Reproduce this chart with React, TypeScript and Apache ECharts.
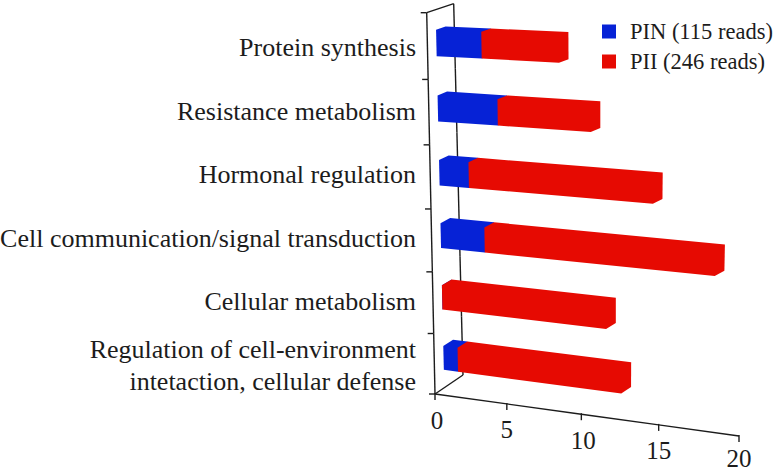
import React, { useEffect, useRef } from "react";
import * as echarts from "echarts";

const categories = [
  "Protein synthesis",
  "Resistance metabolism",
  "Hormonal regulation",
  "Cell communication/signal transduction",
  "Cellular metabolism",
  "Regulation of cell-environment\nintetaction, cellular defense",
];
const pinValues = [3, 4, 2, 3, 0, 1];
const piiValues = [5, 6, 11.9, 14.75, 11, 11];
const xTicks = [0, 5, 10, 15, 20];
const FONT = '"Liberation Serif", "Times New Roman", serif';
const BLUE = "#0622D6";
const RED = "#E60A02";
const INK = "#1c1c1c";

const GRID = { left: 435, top: 16, width: 304, height: 381 };
const Q = { tl: [426.7, 12.7], tr: [750, 26], br: [739, 436], bl: [435, 394] };

function makeH() {
  const [x0, y0] = Q.tl, [x1, y1] = Q.tr, [x2, y2] = Q.br, [x3, y3] = Q.bl;
  const dx1 = x1 - x2, dx2 = x3 - x2, sx = x0 - x1 + x2 - x3;
  const dy1 = y1 - y2, dy2 = y3 - y2, sy = y0 - y1 + y2 - y3;
  const det = dx1 * dy2 - dx2 * dy1;
  const g = (sx * dy2 - dx2 * sy) / det;
  const h = (dx1 * sy - sx * dy1) / det;
  const a = x1 - x0 + g * x1, b = x3 - x0 + h * x3, c = x0;
  const d = y1 - y0 + g * y1, e = y3 - y0 + h * y3, f = y0;
  return (u: number, v: number) => {
    const w = g * u + h * v + 1;
    return [(a * u + b * v + c) / w, (d * u + e * v + f) / w];
  };
}
const H = makeH();

// grid pixel -> tilted picture, z is the depth of the box (0 front wall, 1 back wall)
function project(px: number, py: number, z = 0) {
  const u = (px - GRID.left) / GRID.width;
  const v = (py - GRID.top) / GRID.height;
  const p = H(u, v);
  return [p[0] + z * (27 + v), p[1] - z * (9 + 10 * v)];
}

const Z0 = 0.33;
const Z1 = 0.68;

function barItem(color: string) {
  return (_: any, api: any) => {
    const idx = api.value(0);
    const a = api.coord([api.value(1), idx]);
    const b = api.coord([api.value(2), idx]);
    const band = api.size([0, 1])[1];
    const t = a[1] - band * 0.2;
    const m = a[1] + band * 0.2;
    return {
      type: "polygon",
      shape: {
        points: [
          project(a[0], m, Z0),
          project(a[0], t, Z0),
          project(a[0], t, Z1),
          project(b[0], t, Z1),
          project(b[0], m, Z1),
          project(b[0], m, Z0),
        ],
      },
      style: { fill: color },
    };
  };
}

const line = (p: number[], q: number[]) => ({
  type: "line",
  shape: { x1: p[0], y1: p[1], x2: q[0], y2: q[1] },
  style: { stroke: INK, lineWidth: 1.4 },
});

function frameItem(_: any, api: any) {
  const i = api.value(0);
  const top = GRID.top, h = GRID.height, l = GRID.left;
  const y = top + (i / 6) * h;
  const p = project(l, y);
  const kids: any[] = [line([p[0] - 6, p[1]], p)];
  if (i < 6) {
    kids.push(line(project(l, y), project(l, top + ((i + 1) / 6) * h)));
    kids.push(line(project(l, y, 1), project(l, top + ((i + 1) / 6) * h, 1)));
  }
  if (i === 0 || i === 6) kids.push(line(project(l, y), project(l, y, 1)));
  return { type: "group", children: kids };
}

function tickItem(_: any, api: any) {
  const v = api.value(0);
  const c = api.coord([v, categories.length - 1]);
  const bottom = GRID.top + GRID.height;
  const p = project(c[0], bottom);
  const kids: any[] = [
    line([p[0], p[1] - 1], [p[0], p[1] + 6]),
    {
      type: "text",
      style: {
        x: p[0] + (v === 0 ? 2 : v === 10 ? 2 : 0),
        y: p[1] + (v === 20 ? 22 : 26),
        text: String(v),
        fill: INK,
        font: `25px ${FONT}`,
        lineHeight: 18,
        align: "center",
        verticalAlign: "middle",
      },
    },
  ];
  if (v < 20) {
    const c2 = api.coord([v + 5, 0]);
    kids.push(line(p, project(c2[0], bottom)));
  }
  return { type: "group", children: kids };
}

export default function App() {
  const ref = useRef<HTMLDivElement>(null);
  useEffect(() => {
    document.body.style.margin = "0";
    const chart = echarts.init(ref.current!, undefined, { renderer: "svg" });
    const pinData = pinValues.map((v, i) => [i, 0, v]);
    const piiData = piiValues.map((v, i) => [i, pinValues[i], pinValues[i] + v]);
    chart.setOption({
      animation: false,
      backgroundColor: "#fff",
      grid: { ...GRID, containLabel: false, outerBoundsMode: "none" },
      legend: {
        left: 602,
        top: 20,
        padding: 0,
        orient: "vertical",
        icon: "rect",
        itemWidth: 14,
        itemHeight: 14,
        itemGap: 7,
        selectedMode: false,
        textStyle: { fontFamily: FONT, fontSize: 22.5, color: INK, padding: [0, 0, 0, 9] },
        data: ["PIN (115 reads)", "PII (246 reads)"],
      },
      xAxis: { type: "value", min: 0, max: 20, interval: 5, show: false },
      yAxis: {
        type: "category",
        inverse: true,
        data: categories,
        axisLine: { show: false },
        axisTick: { show: false },
        axisLabel: {
          margin: 19,
          fontFamily: FONT,
          fontSize: 26,
          lineHeight: 32,
          color: INK,
          align: "right",
        },
      },
      series: [
        {
          type: "custom",
          name: "frame",
          coordinateSystem: "cartesian2d",
          renderItem: frameItem,
          data: [0, 1, 2, 3, 4, 5, 6].map((i) => [i]),
          encode: { x: -1, y: -1 },
          silent: true,
        },
        {
          type: "custom",
          name: "ticks",
          coordinateSystem: "cartesian2d",
          renderItem: tickItem,
          data: xTicks.map((v) => [v]),
          encode: { x: 0, y: -1 },
          silent: true,
        },
        {
          type: "custom",
          name: "PIN (115 reads)",
          renderItem: barItem(BLUE),
          itemStyle: { color: BLUE },
          data: pinData,
          encode: { x: [1, 2], y: 0 },
          silent: true,
        },
        {
          type: "custom",
          name: "PII (246 reads)",
          renderItem: barItem(RED),
          itemStyle: { color: RED },
          data: piiData,
          encode: { x: [1, 2], y: 0 },
          silent: true,
        },
      ],
    });
    return () => chart.dispose();
  }, []);
  return <div ref={ref} style={{ width: 774, height: 471 }} />;
}
